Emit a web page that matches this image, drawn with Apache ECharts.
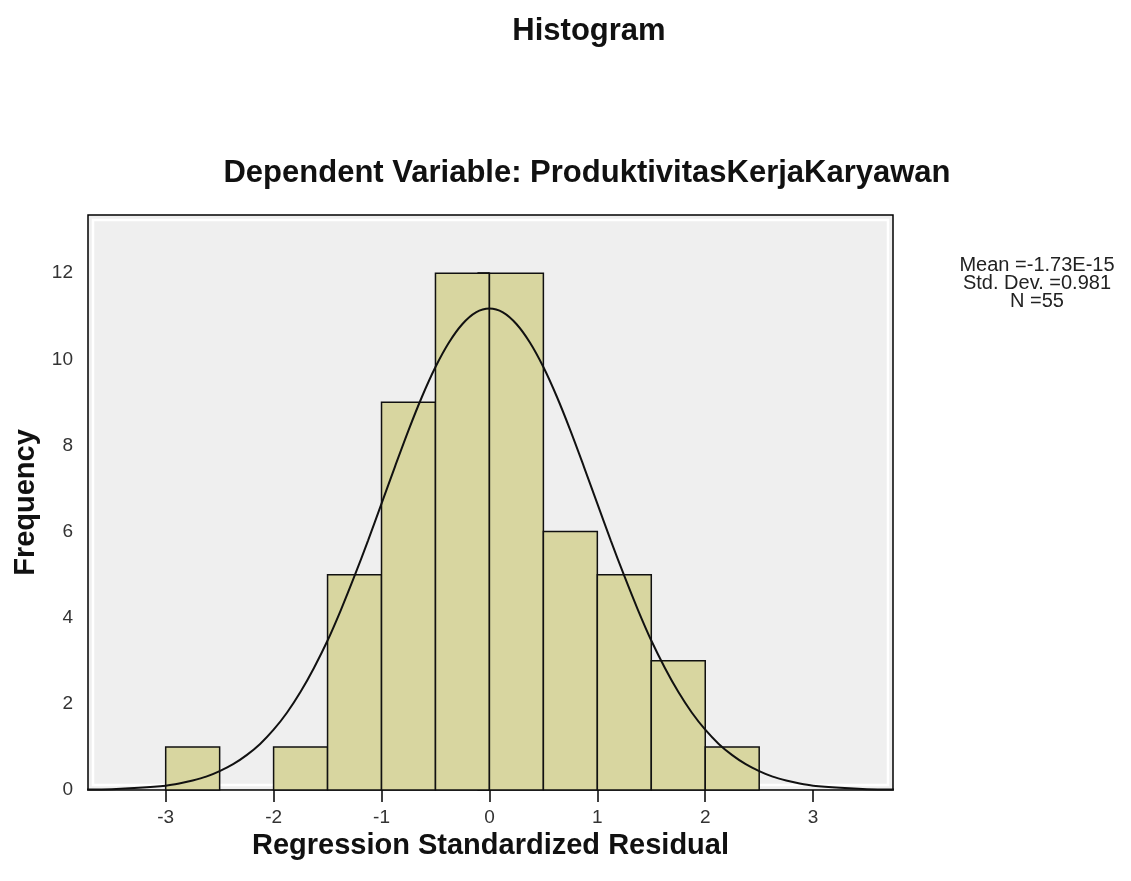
<!DOCTYPE html>
<html>
<head>
<meta charset="utf-8">
<script src="https://cdn.jsdelivr.net/npm/echarts@6/dist/echarts.min.js"></script>
<style>html,body{margin:0;padding:0;background:#fff;}#c{width:1131px;height:881px;}</style>
</head>
<body>
<div id="c"></div>
<script>
// Histogram bins (start, end) and frequencies
var binStarts = [-3, -2.5, -2, -1.5, -1, -0.5, 0, 0.5, 1, 1.5, 2];
var binEnds   = [-2.5, -2, -1.5, -1, -0.5, 0, 0.5, 1, 1.5, 2, 2.5];
var freqs     = [1, 0, 1, 5, 9, 12, 12, 6, 5, 3, 1];
// Normal curve points
var curveX = [-3.75,-3.5,-3.25,-3,-2.875,-2.75,-2.625,-2.5,-2.375,-2.25,-2.125,-2,-1.875,-1.75,-1.625,-1.5,-1.375,-1.25,-1.125,-1,-0.875,-0.75,-0.625,-0.5,-0.375,-0.25,-0.125,0,0.125,0.25,0.375,0.5,0.625,0.75,0.875,1,1.125,1.25,1.375,1.5,1.625,1.75,1.875,2,2.125,2.25,2.375,2.5,2.625,2.75,2.875,3,3.25,3.5,3.75];
var curveY = [0.01,0.02,0.05,0.10,0.15,0.22,0.31,0.44,0.60,0.81,1.07,1.40,1.80,2.28,2.84,3.47,4.19,4.97,5.79,6.65,7.51,8.35,9.13,9.82,10.39,10.82,11.09,11.18,11.09,10.82,10.39,9.82,9.13,8.35,7.51,6.65,5.79,4.97,4.19,3.47,2.84,2.28,1.80,1.40,1.07,0.81,0.60,0.44,0.31,0.22,0.15,0.10,0.05,0.02,0.01];
var xTicks = [-3,-2,-1,0,1,2,3];
var yTicks = [0,2,4,6,8,10,12];
var statsText = ['Mean =-1.73E-15', 'Std. Dev. =0.981', 'N =55'];

var chart = echarts.init(document.getElementById('c'));
var barData = binStarts.map(function(s,i){return [s, binEnds[i], freqs[i]];}).filter(function(d){return d[2]>0;});
var lineData = curveX.map(function(x,i){return [x, curveY[i]];});
var font = "'Liberation Sans', Arial, sans-serif";

chart.setOption({
  backgroundColor: '#ffffff',
  animation: false,
  title: [
    {text: 'Histogram', left: 584, top: 11, textAlign: 'center',
     textStyle: {fontFamily: font, fontSize: 31, fontWeight: 'bold', color: '#111'}},
    {text: 'Dependent Variable: ProduktivitasKerjaKaryawan', left: 582, top: 153, textAlign: 'center',
     textStyle: {fontFamily: font, fontSize: 31, fontWeight: 'bold', color: '#111'}}
  ],
  graphic: [
    {
      type: 'rect', z: 1, silent: true,
      shape: {x: 93, y: 220, width: 795, height: 565},
      style: {fill: 'none', stroke: '#ffffff', lineWidth: 2.5}
    },
    {
      type: 'text', x: 1037, y: 256,
      style: {text: statsText.join('\n'), fontFamily: font, fontSize: 20, lineHeight: 18,
              fill: '#222', textAlign: 'center'}
    }
  ],
  grid: {left: 88, right: 238, top: 215, bottom: 91, show: true,
         backgroundColor: '#efefef', borderColor: '#000', borderWidth: 1.5},
  xAxis: {
    type: 'value', min: -3.72, max: 3.74,
    name: 'Regression Standardized Residual', nameLocation: 'middle', nameGap: 40,
    nameTextStyle: {fontFamily: font, fontSize: 29, fontWeight: 'bold', color: '#111'},
    axisLine: {show: false},
    axisTick: {show: true, length: 12, lineStyle: {color: '#000', width: 1.5},
      customValues: xTicks},
    axisLabel: {fontFamily: font, fontSize: 19, color: '#333', margin: 18,
      customValues: xTicks},
    splitLine: {show: false}
  },
  yAxis: {
    type: 'value', min: 0, max: 13.35,
    name: 'Frequency', nameLocation: 'middle', nameGap: 46, nameRotate: 90,
    nameTextStyle: {fontFamily: font, fontSize: 29, fontWeight: 'bold', color: '#111'},
    axisLine: {show: false},
    axisTick: {show: true, length: 12, lineStyle: {color: '#000', width: 1.5},
      customValues: yTicks},
    axisLabel: {fontFamily: font, fontSize: 19, color: '#333', margin: 15,
      customValues: yTicks},
    splitLine: {show: false}
  },
  series: [
    {
      type: 'custom',
      data: barData,
      renderItem: function(params, api){
        var p0 = api.coord([api.value(0), 0]);
        var p1 = api.coord([api.value(1), api.value(2)]);
        return {type: 'rect',
          shape: {x: p0[0], y: p1[1], width: p1[0]-p0[0], height: p0[1]-p1[1]},
          style: {fill: '#d8d6a0', stroke: '#111', lineWidth: 1.5}};
      },
      encode: {x: [0,1], y: 2},
      z: 2
    },
    {
      type: 'line', data: lineData, smooth: 0.3, showSymbol: false, clip: true,
      lineStyle: {color: '#111', width: 2}, z: 3
    }
  ]
});
</script>
</body>
</html>
